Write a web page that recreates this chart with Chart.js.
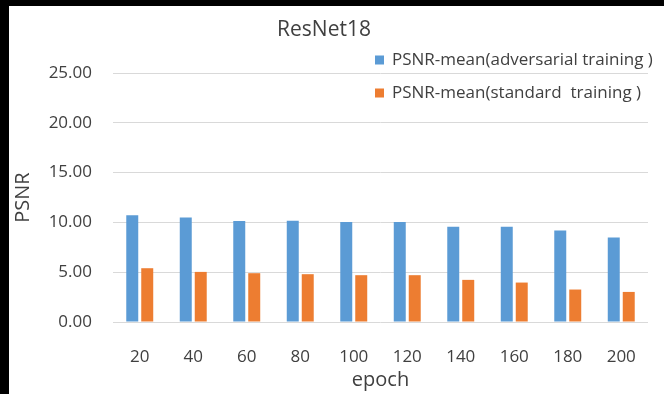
<!DOCTYPE html>
<html>
<head>
<meta charset="utf-8">
<script src="https://cdn.jsdelivr.net/npm/chart.js@4/dist/chart.umd.min.js"></script>
<style>
  html, body { margin: 0; padding: 0; background: #000; width: 664px; height: 394px; overflow: hidden; }
  #wrap { position: absolute; left: 9px; top: 6px; width: 655px; height: 388px; background: #fff; }
  canvas { display: block; }
</style>
</head>
<body>
<div id="wrap"><canvas id="c"></canvas></div>
<script>
const chartTitle = 'ResNet18';
const categories = ['20', '40', '60', '80', '100', '120', '140', '160', '180', '200'];
const seriesNames = ['PSNR-mean(adversarial training )', 'PSNR-mean(standard  training )'];
const advValues = [10.73, 10.50, 10.13, 10.16, 10.03, 10.03, 9.56, 9.56, 9.19, 8.49];
const stdValues = [5.40, 5.03, 4.90, 4.80, 4.70, 4.70, 4.23, 3.96, 3.26, 3.02];
const yTicks = [0, 5, 10, 15, 20, 25];
const xTitle = 'epoch';
const yTitle = 'PSNR';

const FONT = "'Open Sans', 'Noto Sans', sans-serif";
const TEXT = '#404040';

const overlay = {
  id: 'overlay',
  afterDraw(chart) {
    const ctx = chart.ctx;
    ctx.save();
    ctx.fillStyle = TEXT;
    ctx.font = '21px ' + FONT;
    ctx.textAlign = 'center';
    ctx.textBaseline = 'middle';
    ctx.fillText(chartTitle, 315, 24);
    const rows = [54, 87];
    ctx.font = '17px ' + FONT;
    ctx.textAlign = 'left';
    chart.data.datasets.forEach((ds, i) => {
      ctx.fillStyle = ds.backgroundColor;
      ctx.fillRect(366, rows[i] - 4.5, 9, 9);
      ctx.fillStyle = TEXT;
      ctx.fillText(ds.label, 383, rows[i]);
    });
    ctx.restore();
  }
};

new Chart(document.getElementById('c'), {
  type: 'bar',
  data: {
    labels: categories,
    datasets: [
      { label: seriesNames[0], data: advValues, backgroundColor: '#5B9BD5', barPercentage: 0.8, categoryPercentage: 0.56 },
      { label: seriesNames[1], data: stdValues, backgroundColor: '#ED7D31', barPercentage: 0.8, categoryPercentage: 0.56 }
    ]
  },
  options: {
    responsive: true,
    maintainAspectRatio: false,
    animation: false,
    layout: { padding: { left: 0, top: 67, right: 16, bottom: 0 } },
    plugins: { legend: { display: false }, title: { display: false }, tooltip: { enabled: false } },
    scales: {
      x: {
        grid: { display: false },
        border: { display: false },
        ticks: { color: TEXT, font: { family: FONT, size: 17 }, padding: 17, maxRotation: 0 },
        title: { display: true, text: xTitle, color: TEXT, font: { family: FONT, size: 20 }, padding: { top: 0, bottom: 2 } },
        afterFit(s) { s.height = 72; }
      },
      y: {
        min: yTicks[0],
        max: yTicks[yTicks.length - 1],
        afterBuildTicks(s) { s.ticks = yTicks.map(v => ({ value: v })); },
        grid: { color: '#d9d9d9', drawTicks: false, lineWidth: 1 },
        border: { display: false },
        ticks: { color: TEXT, font: { family: FONT, size: 17 }, padding: 21, callback: v => Number(v).toFixed(2) },
        title: { display: true, text: yTitle, color: TEXT, font: { family: FONT, size: 20 }, padding: { top: 2, bottom: 0 } },
        afterFit(s) { s.width = 104; }
      }
    }
  },
  plugins: [overlay]
});
</script>
</body>
</html>
